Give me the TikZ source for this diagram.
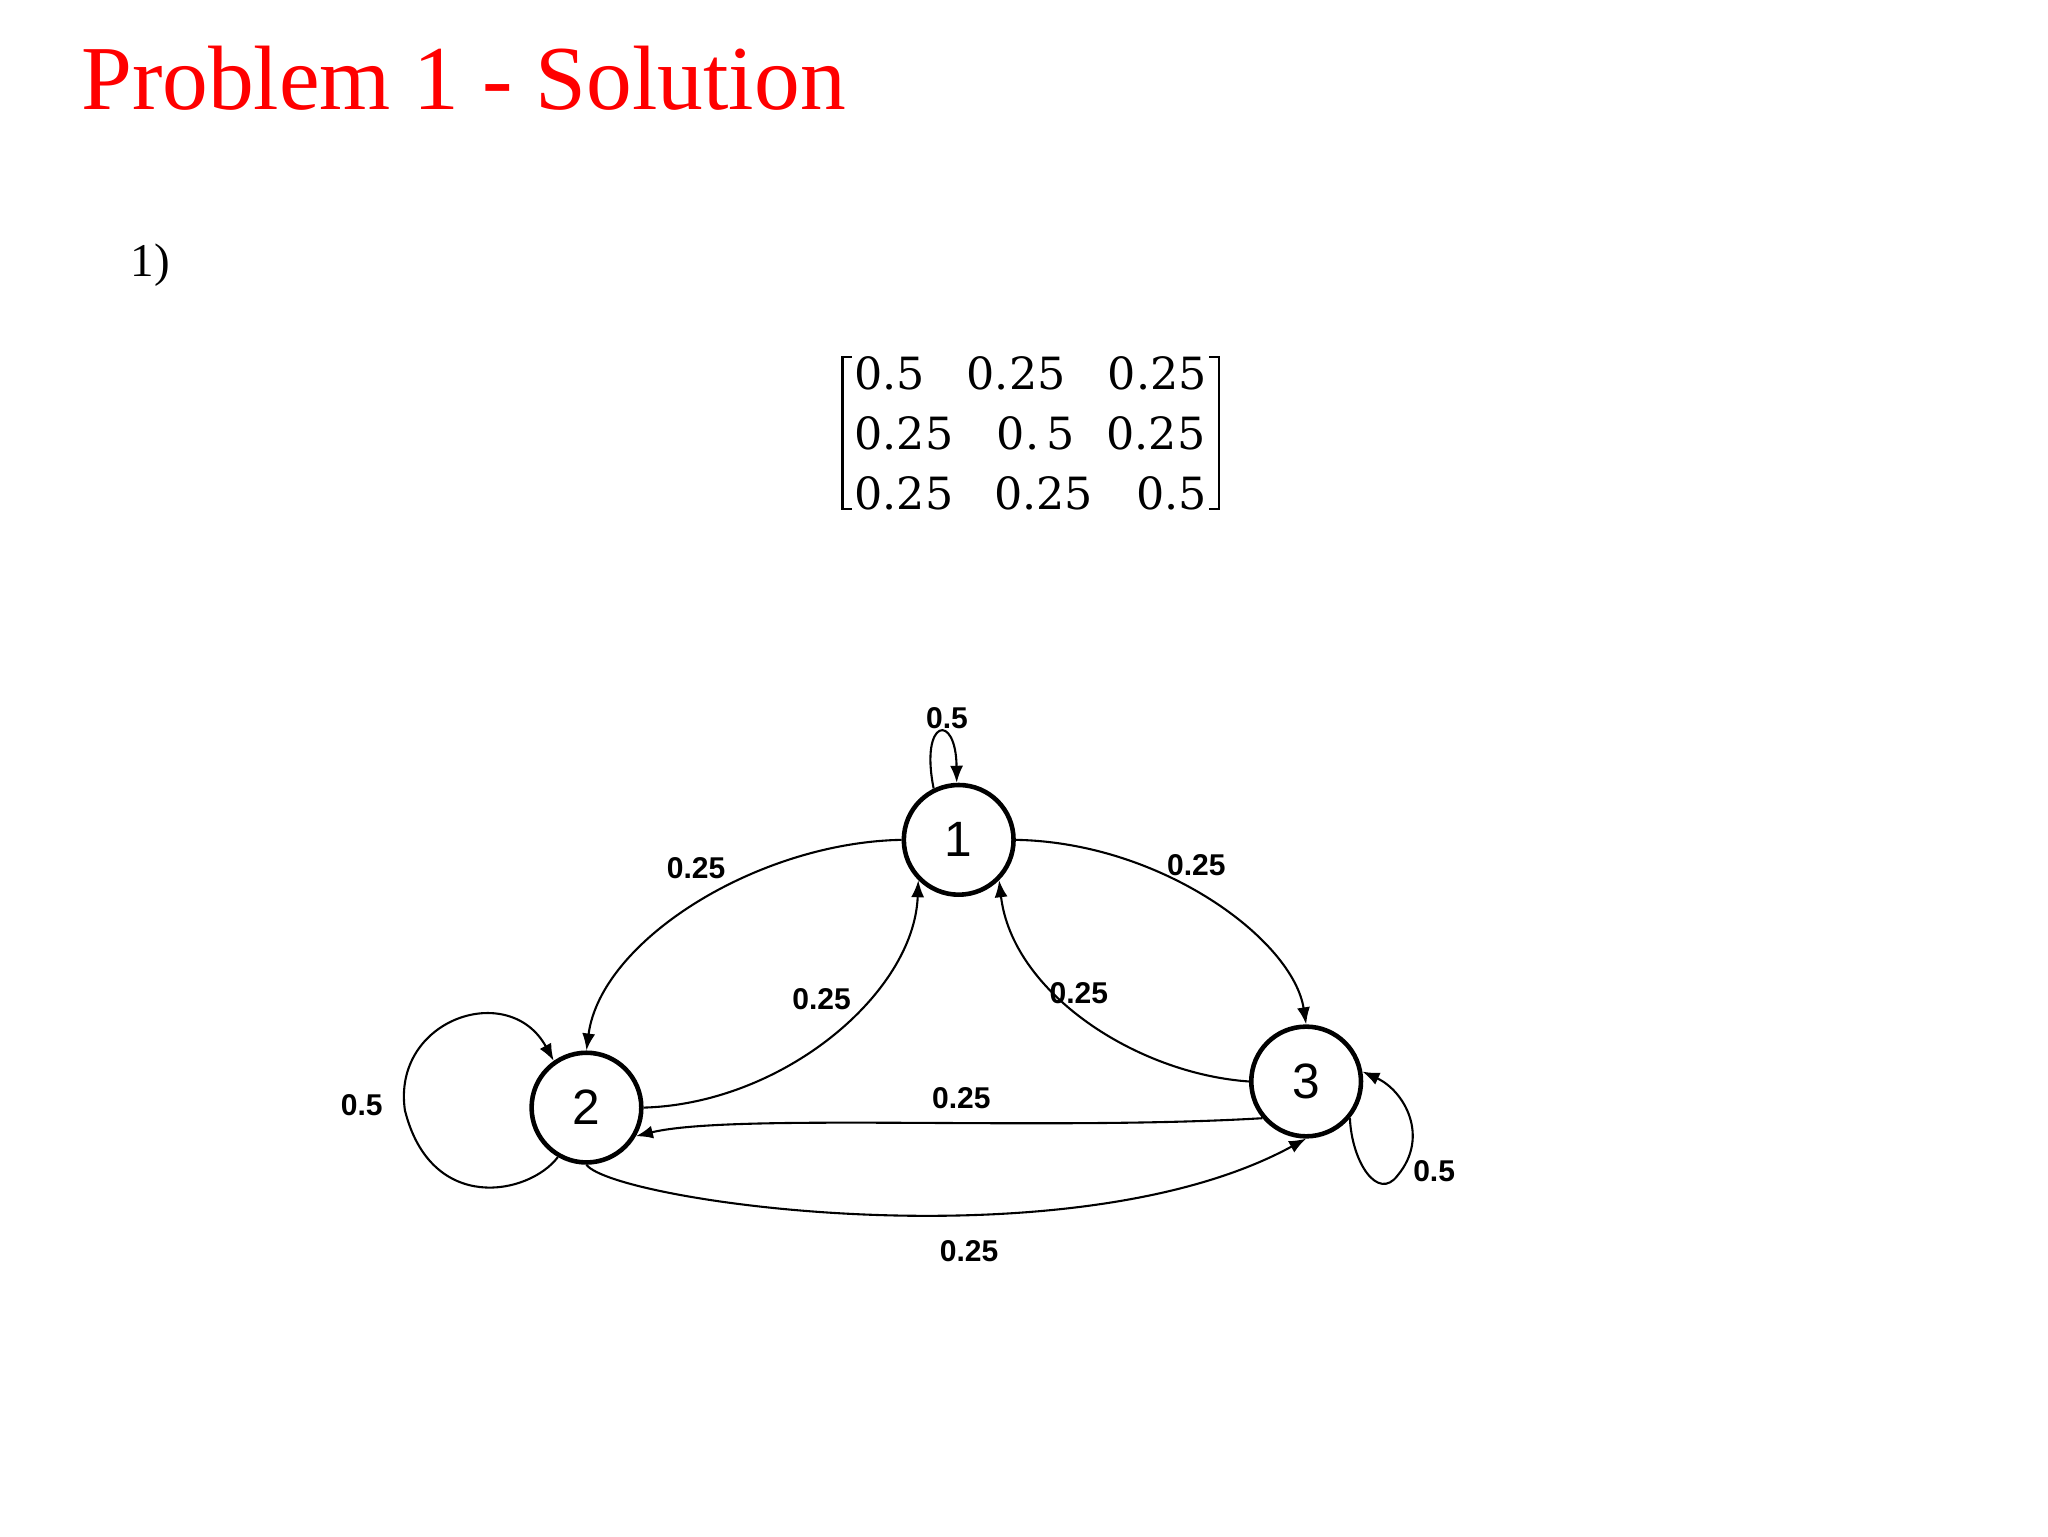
\documentclass[tikz,border=0pt]{standalone}
\usepackage{fontspec}
\setmainfont{Liberation Serif}
\newfontfamily\arialf{Liberation Sans}
\newfontfamily\matf{DejaVu Serif}
\usetikzlibrary{arrows.meta}
\begin{document}
\begin{tikzpicture}[x=1pt,y=-1pt,
  st/.style={circle,draw,line width=3.5pt,minimum size=84pt,inner sep=0pt,font=\arialf\fontsize{38}{40}\selectfont},
  ed/.style={line width=1.6pt,-{Latex[length=13pt,width=10pt]}},
  lb/.style={font=\arialf\bfseries\fontsize{23}{26}\selectfont},
  mt/.style={font=\matf\fontsize{34}{36}\selectfont,anchor=base}]
\useasboundingbox (0,0) rectangle (1568,1176);
\fill[white] (0,0) rectangle (1568,1176);
\node[anchor=base west,text=red,inner sep=0,font=\fontsize{70}{72}\selectfont] (title) at (62,84) {Problem 1 - Solution};
\node[anchor=base west,inner sep=0,font=\fontsize{36}{38}\selectfont] (one) at (100,212) {1)};
% matrix
\node[mt] (m11) at (681,298) {0.5};
\node[mt] (m12) at (778,298) {0.25};
\node[mt] (m13) at (886,298) {0.25};
\node[mt] (m21) at (692,344) {0.25};
\node[mt] (m22) at (793,344) {0.\,5};
\node[mt] (m23) at (885,344) {0.25};
\node[mt] (m31) at (692,390) {0.25};
\node[mt] (m32) at (799,390) {0.25};
\node[mt] (m33) at (897,390) {0.5};
\draw[line width=1.6pt] (652,273) -- (645,273) -- (645,390) -- (652,390);
\draw[line width=1.6pt] (926,273) -- (933,273) -- (933,390) -- (926,390);
% states
\node[st] (s1) at (734,643) {1};
\node[st] (s2) at (449,848) {2};
\node[st] (s3) at (1000,828) {3};
% edges
\draw[ed] (s1.116) .. controls (704,550) and (732,545) .. (s1.92);
\draw[ed] (s1.180) .. controls (580,645) and (460,720) .. (s2.90);
\draw[ed] (s2.0) .. controls (600,845) and (700,760) .. (s1.225);
\draw[ed] (s1.0) .. controls (890,645) and (990,720) .. (s3.90);
\draw[ed] (s3.180) .. controls (870,822) and (775,760) .. (s1.315);
\draw[ed] (s3.220) .. controls (800,866) and (560,852) .. (s2.-30);
\draw[ed] (s2.270) .. controls (470,920) and (820,970) .. (s3.270);
\draw[ed] (s2.240) .. controls (405,915) and (330,930) .. (310,850) .. controls (300,780) and (390,750) .. (s2.125);
\draw[ed] (s3.-40) .. controls (1035,890) and (1055,920) .. (1070,900) .. controls (1095,870) and (1075,835) .. (s3.10);
% labels
\node[lb] (l1) at (725,550) {0.5};
\node[lb] (l12) at (533,665) {0.25};
\node[lb] (l21) at (629,765) {0.25};
\node[lb] (l13) at (916,662) {0.25};
\node[lb] (l31) at (826,760) {0.25};
\node[lb] (l32) at (736,841) {0.25};
\node[lb] (l23) at (742,958) {0.25};
\node[lb] (l2) at (277,846) {0.5};
\node[lb] (l3) at (1098,897) {0.5};
\end{tikzpicture}
\end{document}
